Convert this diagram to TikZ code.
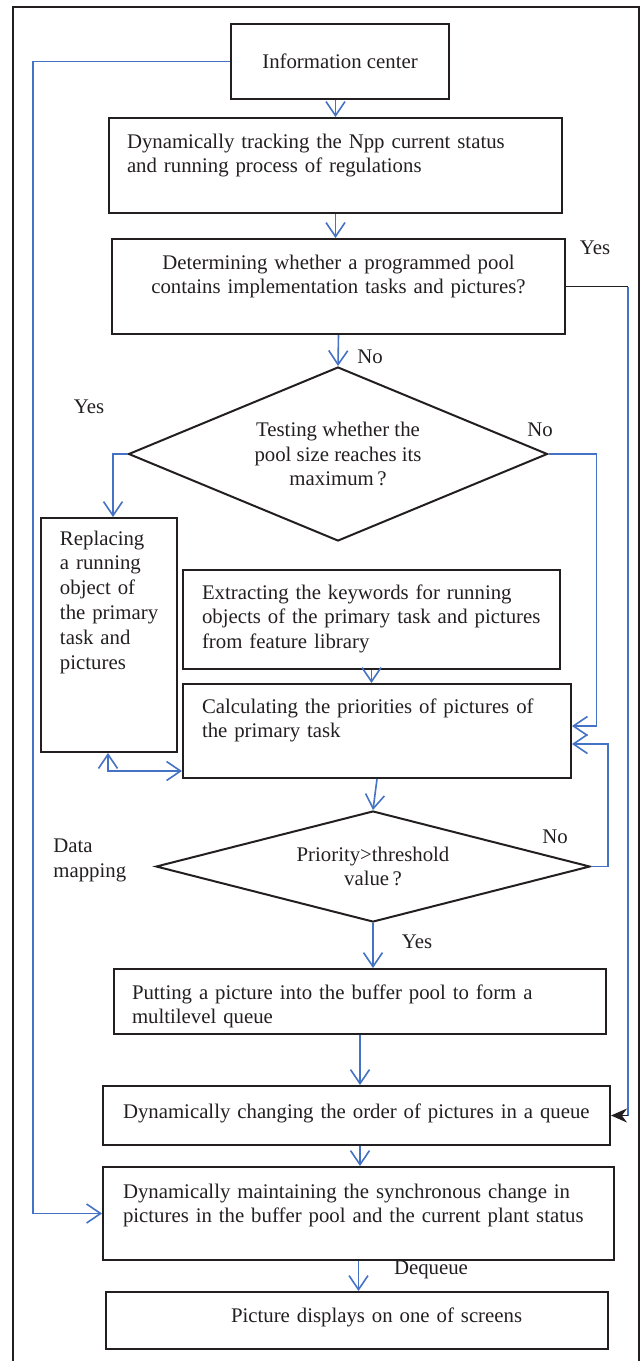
\documentclass[tikz,border=0pt]{standalone}
\usepackage{fontspec}
\setmainfont{Liberation Serif}
\usetikzlibrary{arrows.meta,shapes.geometric}
\definecolor{flowblue}{RGB}{68,114,196}
\definecolor{boxline}{RGB}{35,31,32}
\tikzset{
  >={Straight Barb[length=7pt,width=9.5pt]},
  stepbox/.style={draw=boxline, line width=1pt, inner ysep=0pt, align=left, anchor=north west},
  decision/.style={diamond, draw=boxline, line width=1pt, inner sep=0pt, align=center},
  flow/.style={draw=flowblue, line width=0.8pt, ->},
  yesline/.style={draw=boxline, line width=0.8pt},
  lbl/.style={inner sep=0pt},
}

\begin{document}
\begin{tikzpicture}[x=0.5pt, y=-0.5pt, font=\fontsize{10.4}{12.4}\selectfont, text=boxline]
  \useasboundingbox (0,0) rectangle (641,1361);
  \draw[boxline, line width=1.4pt] (13,1361) |- (639,7) -- (639,1361);

  \node[stepbox, anchor=center, align=center, inner sep=0pt, minimum width=109pt, minimum height=37.5pt] (info) at (340,61.5) {Information center};
  \node[stepbox, inner xsep=9pt, text width=208.5pt, text height=15pt, text depth=32.5pt] (track) at (108,117) {Dynamically tracking the Npp current status\\and running process of regulations};
  \node[stepbox, align=center, inner xsep=9pt, text width=208.5pt, text height=15pt, text depth=32.5pt] (det) at (111,238) {Determining whether a programmed pool\\contains implementation tasks and pictures?};
  \node[decision, minimum width=209.5pt, minimum height=87pt, aspect=2.4] (test) at (338,454) {Testing whether the\\pool size reaches its\\maximum\,?};
  \node[stepbox, inner xsep=9.5pt, text width=49pt, text height=13.5pt, text depth=103.5pt] (replace) at (40,517) {Replacing\\a running\\object of\\\mbox{the primary}\\task and\\pictures};
  \node[stepbox, inner xsep=9.5pt, text width=169.5pt, text height=14.5pt, text depth=35pt] (extract) at (182,569) {\makebox[169.5pt][s]{Extracting the keywords for running}\\\makebox[169.5pt][s]{objects of the primary task and pictures}\\from feature library};
  \node[stepbox, inner xsep=9.5pt, text width=175pt, text height=14.5pt, text depth=32.5pt] (calc) at (182,683) {Calculating the priorities of pictures of\\the primary task};
  \node[decision, minimum width=217pt, minimum height=55.5pt, aspect=3.9] (prio) at (373,866.5) {Priority>threshold\\value\,?};
  \node[stepbox, inner xsep=9pt, text width=228pt, text height=15pt, text depth=17.5pt] (put) at (113,968) {Putting a picture into the buffer pool to form a\\multilevel queue};
  \node[stepbox, inner xsep=10pt, text width=233.5pt, text height=16pt, text depth=13.5pt] (change) at (102,1085) {Dynamically changing the order of pictures in a queue};
  \node[stepbox, inner xsep=10pt, text width=235.5pt, text height=15.5pt, text depth=31pt] (maintain) at (102,1166) {Dynamically maintaining the synchronous change in\\pictures in the buffer pool and the current plant status};
  \node[stepbox, inner xsep=10pt, text width=231pt, text height=15pt, text depth=13.5pt] (display) at (105,1291) {\hspace*{52.5pt}Picture displays on one of screens};

  \node[lbl] (yesa) at (595,248) {Yes};
  \node[lbl] (noa) at (370,357) {No};
  \node[lbl] (yesb) at (89,407) {Yes};
  \node[lbl] (nob) at (540,430) {No};
  \node[lbl] (noc) at (555,837) {No};
  \node[lbl, align=left, anchor=west] (mapping) at (53,860.5) {Data\\mapping};
  \node[lbl] (yesc) at (417,942) {Yes};
  \node[lbl] (dequeue) at (431,1270) {Dequeue};

  \draw[flow] (info.south -| track.north) -- (track.north);
  \draw[flow] (track.south) -- (track.south |- det.north);
  \draw[flow] (det.south) -- (test.north);
  \draw[flow] (test.west) -| ([xshift=2pt]replace.north);
  \draw[flow] (test.east) -- ++(48,0) |- ([yshift=2.5pt]calc.east);
  \draw[flow] (extract.south) -- (extract.south |- calc.north);
  \draw[flow, <->] ([xshift=-0.5pt]replace.south) |- ([yshift=4pt]calc.south west);
  \draw[flow] (calc.south) -- (prio.north);
  \draw[flow] (prio.east) -- ++(17,0) |- ([yshift=-6.5pt]calc.east);
  \draw[flow] (prio.south) -- (prio.south |- put.north);
  \draw[flow] (put.south) -- (put.south |- change.north);
  \draw[flow] (put.south |- change.south) -- (put.south |- maintain.north);
  \draw[flow] (maintain.south) -- (maintain.south |- display.north);
  \draw[flow] (info.west) -- ++(-197,0) |- (maintain.west);

  % yes branch of the pool check
  \draw[yesline] (det.east) -- ++(62,0) coordinate (yesturn);
  \draw[draw=flowblue, line width=0.8pt] (yesturn) -- (yesturn |- change.east) coordinate (yesend);
  \draw[yesline, -{Stealth[length=8pt,width=7pt]}] (yesend) -- (change.east);
\end{tikzpicture}
\end{document}
